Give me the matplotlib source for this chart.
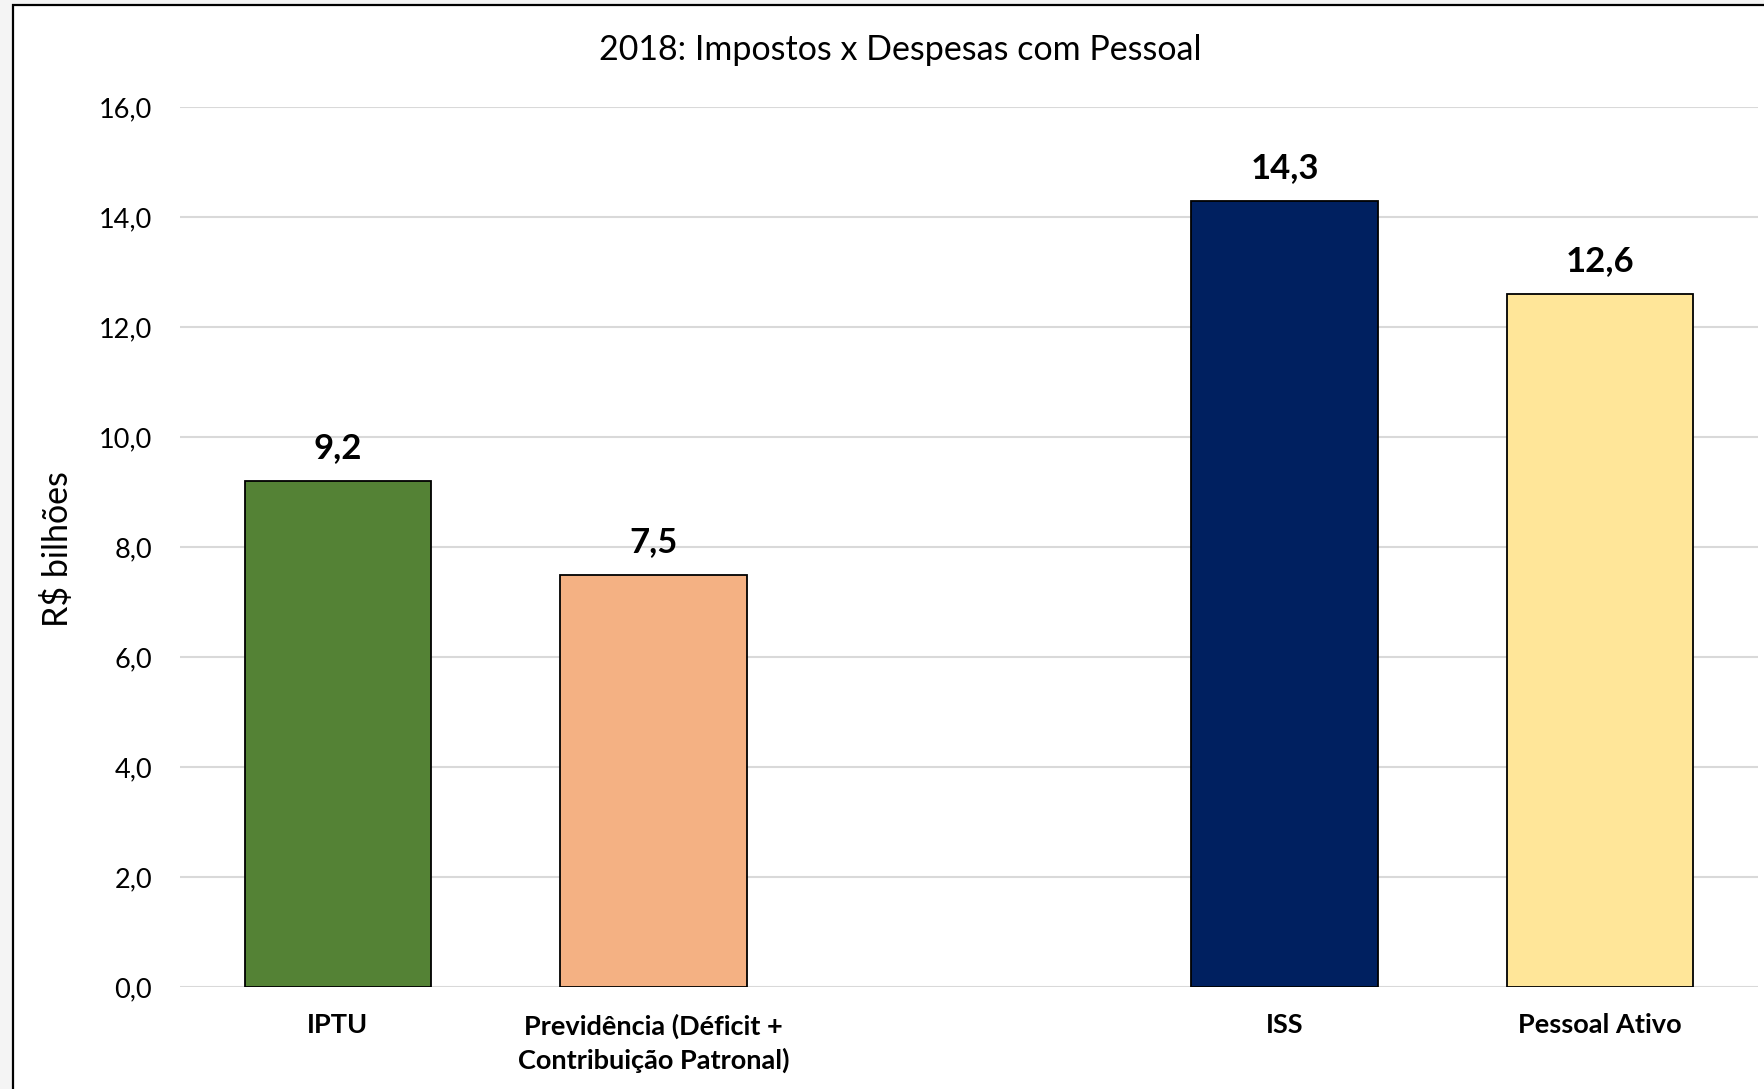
import matplotlib.pyplot as plt
from matplotlib.patches import Rectangle
from matplotlib.ticker import FuncFormatter

plt.rcParams["font.family"] = ["Lato", "DejaVu Sans"]

# %%
# Data (the empty slot is the gap between the two groups)

categories = ["IPTU", "Previdência (Déficit +\nContribuição Patronal)", "", "ISS", "Pessoal Ativo"]
values = [9.2, 7.5, None, 14.3, 12.6]
colors = ["#548235", "#F4B183", None, "#002060", "#FFE699"]

# %%
# Figure

fig = plt.figure(figsize=(17.64, 10.89), dpi=100, facecolor="#f4f4f4")
fig.patches.append(Rectangle((13 / 1764, -0.1), 1.2, 1 - 5 / 1089 + 0.1,
                             transform=fig.transFigure, facecolor="white",
                             edgecolor="black", linewidth=1.6, zorder=-10))

ax = fig.add_axes([180 / 1764, 1 - 987 / 1089, 1578 / 1764, 880 / 1089])
ax.set_facecolor("white")

pos = [i for i, v in enumerate(values) if v is not None]
vals = [values[i] for i in pos]
cols = [colors[i] for i in pos]
bars = ax.bar(pos, vals, width=0.59, color=cols, edgecolor="black", linewidth=1.3, zorder=3)

for b, v in zip(bars, vals):
    ax.annotate(f"{v:.1f}".replace(".", ","), (b.get_x() + b.get_width() / 2, v),
                xytext=(0, 12), textcoords="offset points", ha="center", va="bottom",
                fontsize=25, fontweight="bold")

ax.set_xlim(-0.5, 4.5)
ax.set_ylim(0, 16)
ax.set_yticks(range(0, 17, 2))
ax.yaxis.set_major_formatter(FuncFormatter(lambda y, _: f"{y:.1f}".replace(".", ",")))
ax.set_xticks(range(len(categories)))
ax.set_xticklabels(categories, fontsize=19.5, fontweight="bold", linespacing=1.4)
ax.tick_params(axis="y", length=0, pad=20, labelsize=19.5)
ax.tick_params(axis="x", length=0, pad=19)

ax.grid(axis="y", color="#d9d9d9", linewidth=1.5, zorder=0)
ax.set_axisbelow(True)
for s in ax.spines.values():
    s.set_visible(False)

fig.text(900 / 1764, 1 - 50 / 1089, "2018: Impostos x Despesas com Pessoal",
         ha="center", va="center", fontsize=24.5)
fig.text(57 / 1764, 1 - 549 / 1089, "R\\$ bilhões", rotation=90,
         ha="center", va="center", fontsize=24.5)

fig.savefig("out.png", dpi=100, facecolor=fig.get_facecolor())
